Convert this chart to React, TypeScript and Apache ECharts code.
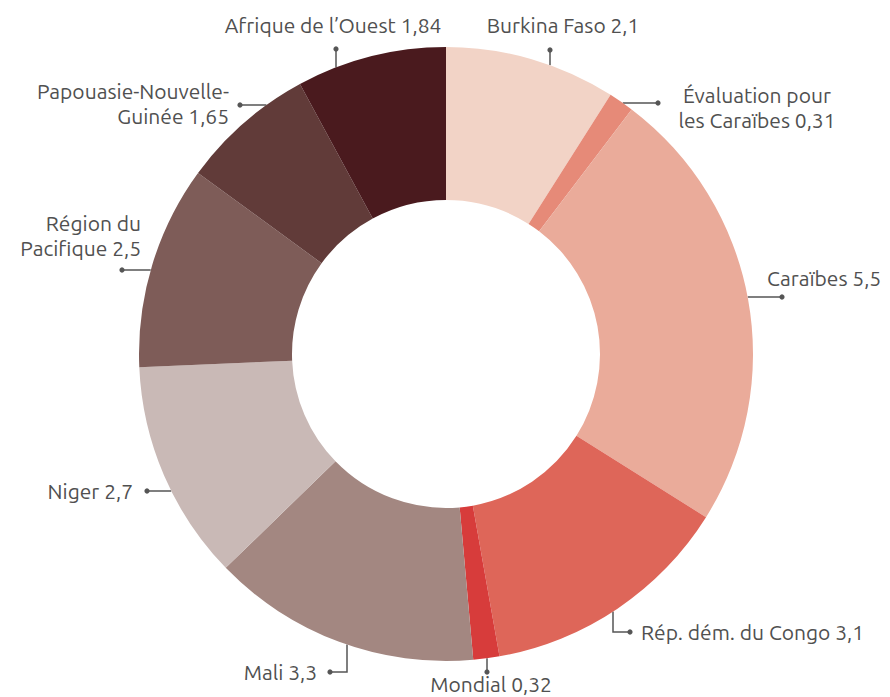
import React, { useEffect, useRef } from "react";
import * as echarts from "echarts";

const names = [
  "Burkina Faso",
  "Évaluation pour\nles Caraïbes",
  "Caraïbes",
  "Rép. dém. du Congo",
  "Mondial",
  "Mali",
  "Niger",
  "Région du\nPacifique",
  "Papouasie-Nouvelle-\nGuinée",
  "Afrique de l’Ouest",
];
const values = [2.1, 0.31, 5.5, 3.1, 0.32, 3.3, 2.7, 2.5, 1.65, 1.84];
const colors = [
  "#f2d3c6",
  "#e68a78",
  "#eaab9a",
  "#de6659",
  "#d73c3b",
  "#a38781",
  "#c9b9b6",
  "#7e5c58",
  "#613b39",
  "#4a1a1e",
];

// label layout (positions in px)
const CX = 446;
const CY = 354;
const R_OUT = 307;
const R_IN = 154;
type Lay = { dot: [number, number]; link: "v" | "h" | "vh"; elbowX?: number; tx: number; ty: number; align: string };
const layouts: Lay[] = [
  { dot: [550, 50], link: "v", tx: 563, ty: 25, align: "center" },
  { dot: [658, 103], link: "h", tx: 757, ty: 107, align: "center" },
  { dot: [782, 297], link: "h", tx: 767, ty: 278, align: "left" },
  { dot: [630, 632], link: "vh", elbowX: 613, tx: 641, ty: 632, align: "left" },
  { dot: [487, 672], link: "v", tx: 491, ty: 684, align: "center" },
  { dot: [330, 672], link: "vh", elbowX: 347, tx: 317, ty: 672, align: "right" },
  { dot: [147, 491], link: "h", tx: 133, ty: 491, align: "right" },
  { dot: [122, 270], link: "h", tx: 141, ty: 235, align: "right" },
  { dot: [240, 105], link: "h", tx: 229, ty: 103, align: "right" },
  { dot: [336, 49], link: "v", tx: 333, ty: 25, align: "center" },
];

function linePoints(l: Lay): number[][] {
  const [dx, dy] = l.dot;
  if (l.link === "h") {
    const off = Math.sqrt(Math.max(0, R_OUT * R_OUT - (dy - CY) * (dy - CY)));
    const ex = dx > CX ? CX + off : CX - off;
    return [[ex, dy], [(ex + dx) / 2, dy], [dx, dy]];
  }
  const x = l.link === "vh" ? (l.elbowX as number) : dx;
  const off = Math.sqrt(Math.max(0, R_OUT * R_OUT - (x - CX) * (x - CX)));
  const ey = dy > CY ? CY + off : CY - off;
  if (l.link === "v") return [[x, ey], [x, (ey + dy) / 2], [x, dy]];
  return [[x, ey], [x, dy], [dx, dy]];
}

const fmt = (v: number) => String(v).replace(".", ",");
const FONT = "Ubuntu, 'Noto Sans', 'Open Sans', sans-serif";

export default function App() {
  const ref = useRef<HTMLDivElement>(null);
  useEffect(() => {
    document.body.style.margin = "0";
    const chart = echarts.init(ref.current as HTMLDivElement, null, { renderer: "svg" });
    chart.setOption({
      animation: false,
      backgroundColor: "#ffffff",
      series: [
        {
          type: "pie",
          center: [CX, CY],
          radius: [R_IN, R_OUT],
          startAngle: 90,
          clockwise: true,
          avoidLabelOverlap: false,
          itemStyle: { borderWidth: 0 },
          label: {
            show: true,
            formatter: (p: any) => `${p.name} ${fmt(p.value)}`,
            color: "#505050",
            fontSize: 21,
            lineHeight: 25,
            fontFamily: FONT,
          },
          labelLine: {
            show: true,
            lineStyle: { color: "#555555", width: 1.5 },
          },
          labelLayout: (params: any) => {
            const l = layouts[params.dataIndex];
            return {
              x: l.tx,
              y: l.ty,
              align: l.align,
              verticalAlign: "middle",
              labelLinePoints: linePoints(l),
            };
          },
          emphasis: { disabled: true },
          data: names.map((n, i) => ({
            name: n,
            value: values[i],
            itemStyle: { color: colors[i] },
            label: { align: layouts[i].align },
          })),
        },
      ],
      graphic: layouts.map((l) => ({
        type: "circle",
        shape: { cx: l.dot[0], cy: l.dot[1], r: 2.6 },
        style: { fill: "#555555" },
        z: 100,
      })),
    });
    return () => chart.dispose();
  }, []);
  return (
    <div
      ref={ref}
      style={{ position: "absolute", left: 0, top: 0, width: 890, height: 697 }}
    />
  );
}
